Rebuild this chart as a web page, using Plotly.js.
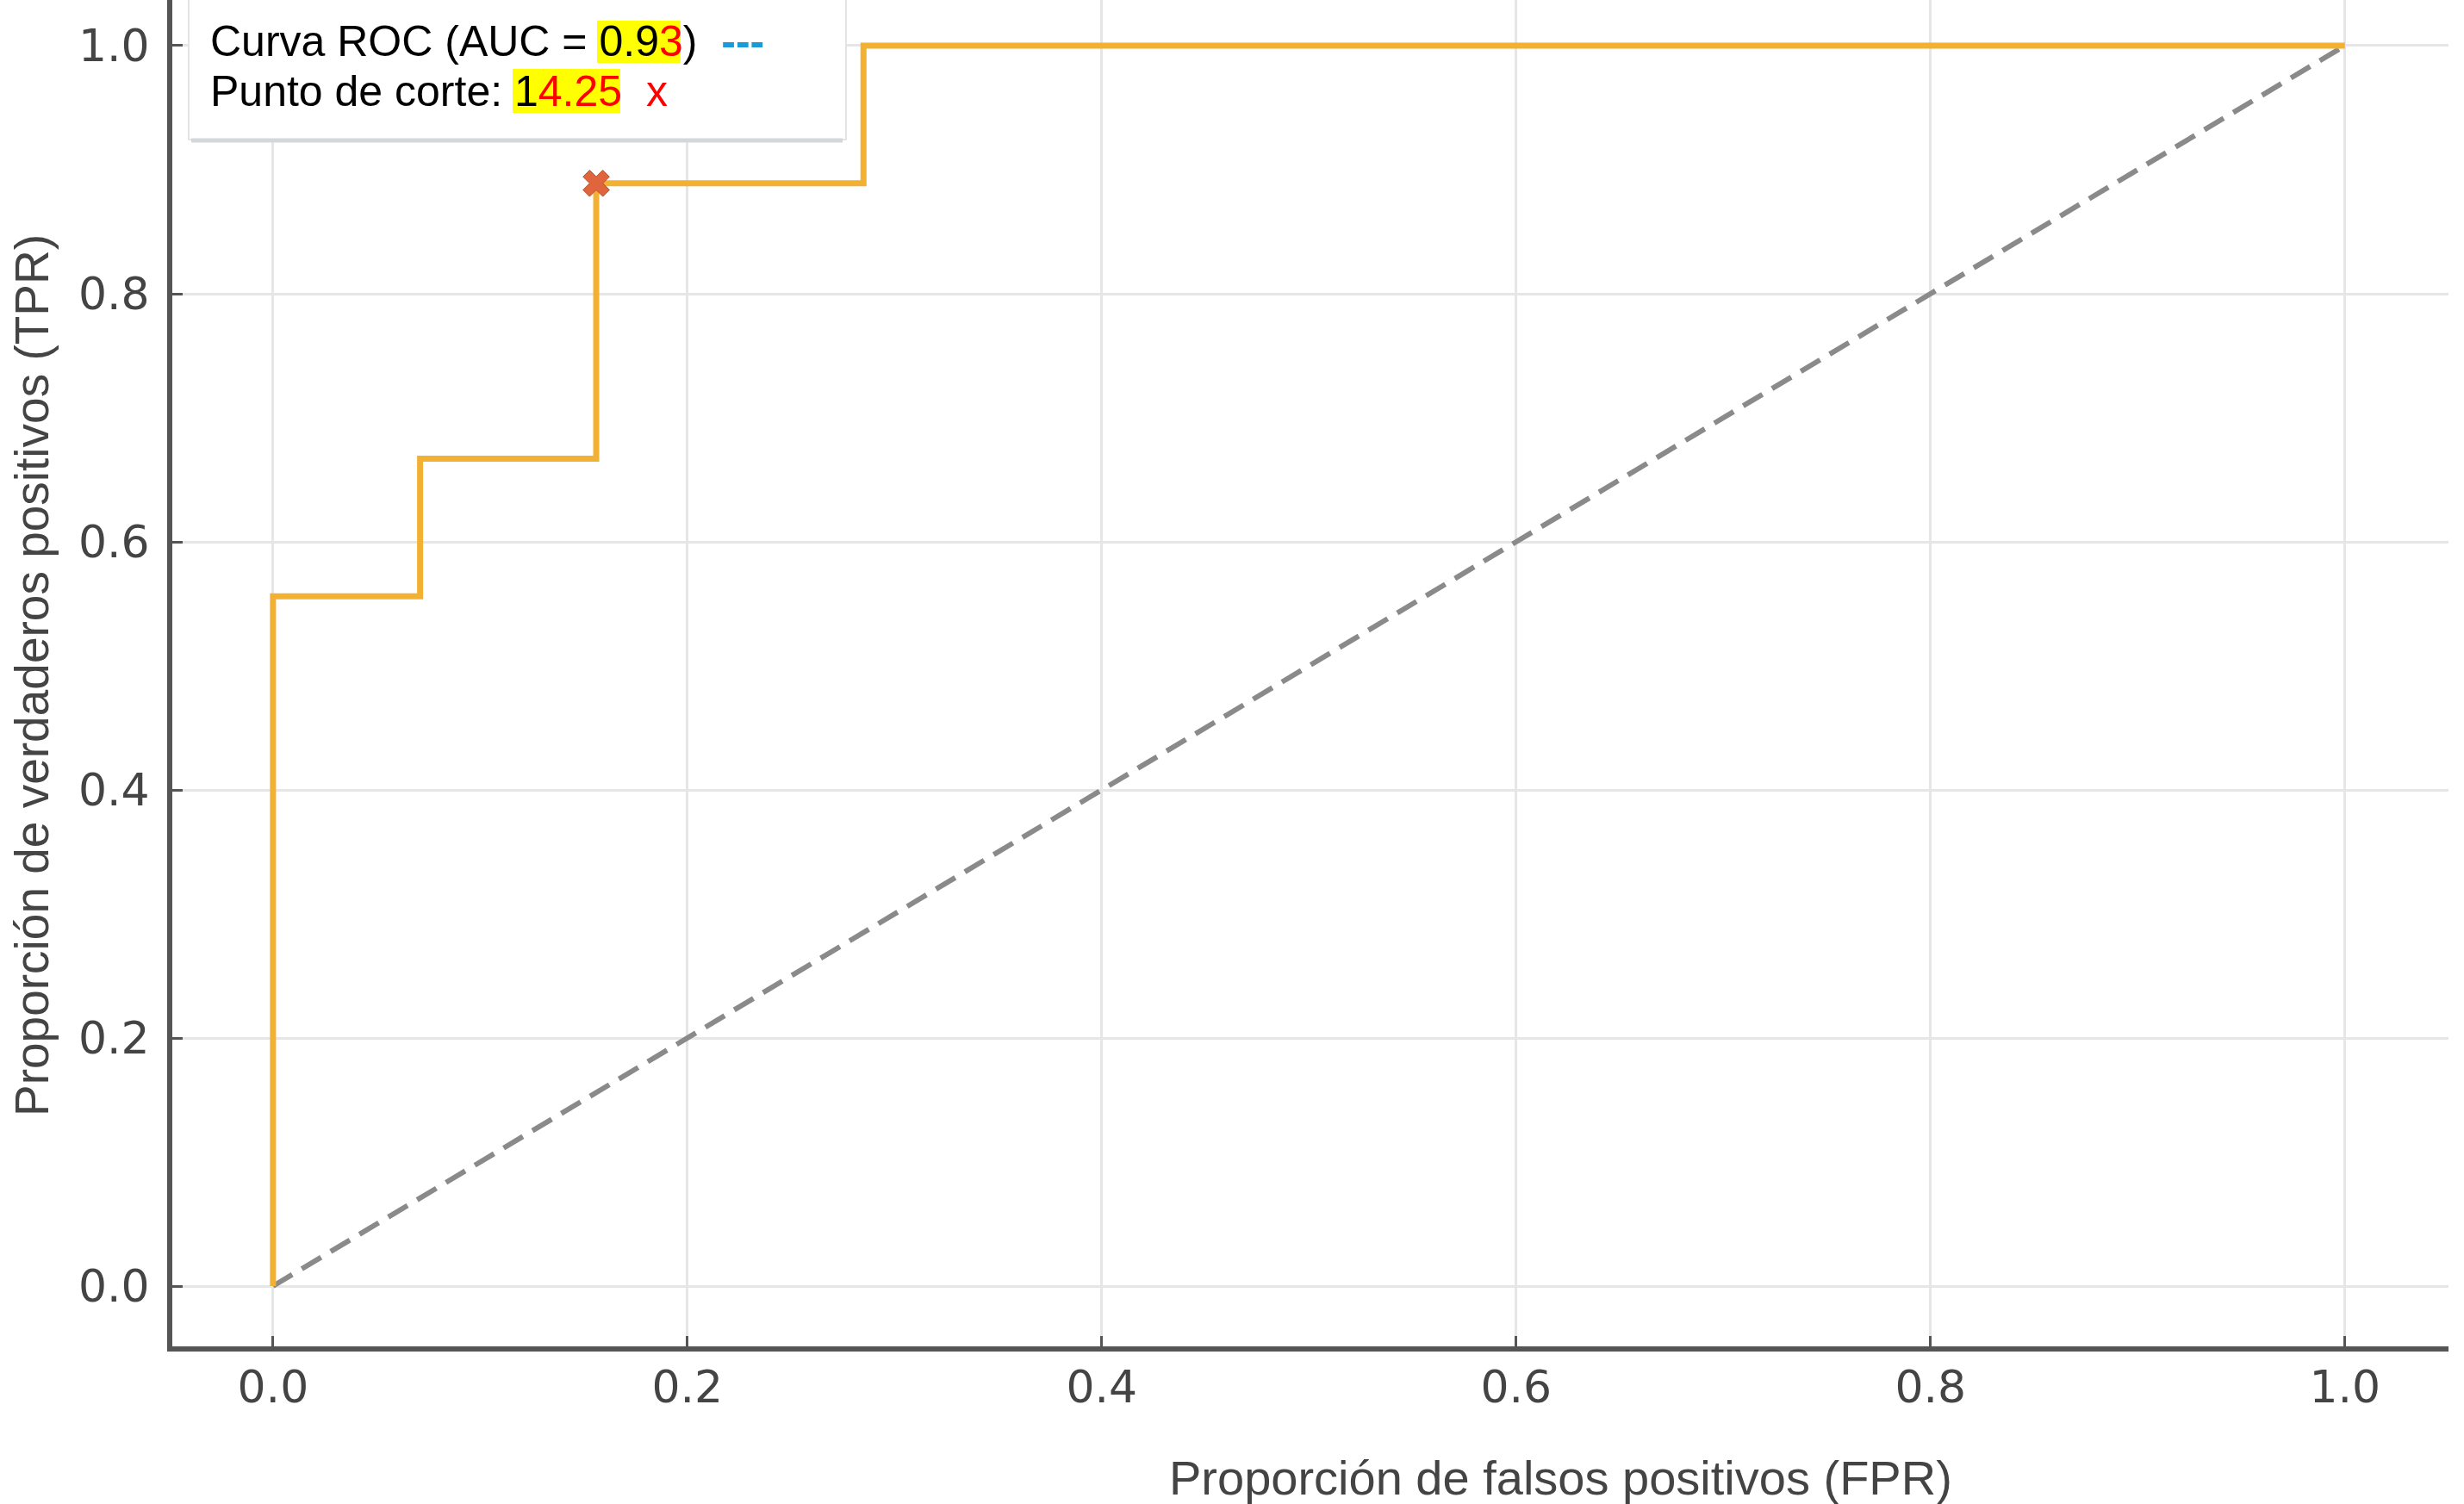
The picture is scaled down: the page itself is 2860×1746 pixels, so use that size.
<!DOCTYPE html>
<html>
<head>
<meta charset="utf-8">
<script src="https://cdn.plot.ly/plotly-3.0.1.min.js"></script>
<style>html,body{margin:0;padding:0;background:#fff;}#chart{width:2860px;height:1746px;}</style>
</head>
<body>
<div id="chart"></div>
<script>
// ---- data ----
const rocFPR = [0, 0, 0.071, 0.156, 0.285, 1.0];
const rocTPR = [0, 0.556, 0.667, 0.889, 1.0, 1.0];
const chanceFPR = [0, 1];
const chanceTPR = [0, 1];
const cutFPR = [0.156];
const cutTPR = [0.889];
const aucValue = "0.93";
const cutValue = "14.25";
const tickVals = [0, 0.2, 0.4, 0.6, 0.8, 1.0];
const tickText = ["0.0", "0.2", "0.4", "0.6", "0.8", "1.0"];
const xTitle = "Proporción de falsos positivos (FPR)";
const yTitle = "Proporción de verdaderos positivos (TPR)";

// ---- layout helpers (pixel -> paper) ----
const W = 2860, H = 1746;
const mL = 200, mR = 18, mT = 0, mB = 183;
const pw = W - mL - mR, ph = H - mT - mB;
const px = v => (v - mL) / pw;
const py = v => (H - mB - v) / ph;

const traces = [
  {x: chanceFPR, y: chanceTPR, mode: 'lines', type: 'scatter',
   line: {color: '#8a8a8a', width: 6, dash: '26px,13px'}, hoverinfo: 'skip'},
  {x: rocFPR, y: rocTPR, mode: 'lines', type: 'scatter',
   line: {color: '#f2b132', width: 7, shape: 'hv'}},
  {x: cutFPR, y: cutTPR, mode: 'markers', type: 'scatter',
   marker: {symbol: 'x', size: 27, color: '#e0643c', line: {color: '#b4502e', width: 1}}}
];

const axisCommon = {
  tickvals: tickVals, ticktext: tickText,
  showgrid: true, gridcolor: '#e6e6e6', gridwidth: 3,
  zeroline: false, showline: true, linecolor: '#555555', linewidth: 6,
  ticks: 'inside', ticklen: 12, tickwidth: 3, tickcolor: '#555555',
  tickfont: {family: 'DejaVu Sans', size: 52, color: '#444444'},
  fixedrange: true
};

const hl1 = [693, 24, 790, 73];
const hl2 = [595, 80, 720, 131];

const layout = {
  width: W, height: H,
  margin: {l: mL, r: mR, t: mT, b: mB, pad: 0},
  paper_bgcolor: '#ffffff', plot_bgcolor: '#ffffff',
  showlegend: false,
  xaxis: Object.assign({}, axisCommon, {range: [-0.0486, 1.05], ticklabelstandoff: -3}),
  yaxis: Object.assign({}, axisCommon, {range: [-0.0486, 1.0368], ticklabelstandoff: 10}),
  shapes: [
    {type: 'rect', xref: 'paper', yref: 'paper', layer: 'above',
     x0: px(219), x1: px(982), y0: py(162), y1: py(-10),
     fillcolor: '#ffffff', line: {color: '#e4e4e4', width: 2}},
    {type: 'line', xref: 'paper', yref: 'paper', layer: 'above',
     x0: px(222), x1: px(978), y0: py(163), y1: py(163),
     line: {color: '#d3d7db', width: 5}},
    {type: 'rect', xref: 'paper', yref: 'paper', layer: 'above',
     x0: px(hl1[0]), x1: px(hl1[2]), y0: py(hl1[3]), y1: py(hl1[1]),
     fillcolor: '#ffff00', line: {width: 0}},
    {type: 'rect', xref: 'paper', yref: 'paper', layer: 'above',
     x0: px(hl2[0]), x1: px(hl2[2]), y0: py(hl2[3]), y1: py(hl2[1]),
     fillcolor: '#ffff00', line: {width: 0}}
  ],
  annotations: [
    {xref: 'paper', yref: 'paper', x: px(243), y: py(48), xanchor: 'left', yanchor: 'middle',
     showarrow: false, borderpad: 0,
     font: {family: 'Liberation Sans', size: 50, color: '#000000'},
     text: 'Curva ROC (AUC = ' + aucValue.slice(0, -1) + "<span style='color:#ff0000'>" + aucValue.slice(-1) +
           "</span>)\u00a0\u00a0<span style='color:#1a9ad6'><b>---</b></span>"},
    {xref: 'paper', yref: 'paper', x: px(243), y: py(106), xanchor: 'left', yanchor: 'middle',
     showarrow: false, borderpad: 0,
     font: {family: 'Liberation Sans', size: 50, color: '#000000'},
     text: 'Punto de corte: ' + cutValue.slice(0, 1) + "<span style='color:#ff0000'>" + cutValue.slice(1) +
           "</span>\u00a0\u00a0<span style='color:#ff0000'>x</span>"},
    {xref: 'paper', yref: 'paper', x: px(1811), y: py(1715), xanchor: 'center', yanchor: 'middle',
     showarrow: false, font: {family: 'Liberation Sans', size: 56, color: '#444444'}, text: xTitle},
    {xref: 'paper', yref: 'paper', x: px(37), y: py(784), xanchor: 'center', yanchor: 'middle',
     textangle: -90, showarrow: false, borderpad: 0,
     font: {family: 'Liberation Sans', size: 55, color: '#444444'}, text: yTitle}
  ]
};

Plotly.newPlot('chart', traces, layout, {staticPlot: true, displayModeBar: false});
</script>
</body>
</html>
